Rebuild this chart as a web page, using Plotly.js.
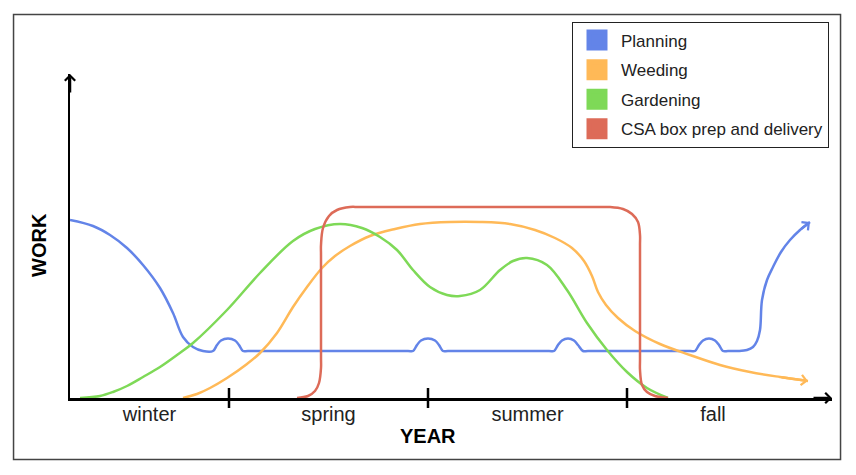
<!DOCTYPE html>
<html>
<head>
<meta charset="utf-8">
<script src="https://cdn.plot.ly/plotly-3.0.1.min.js"></script>
<style>
    html, body { margin: 0; padding: 0; background: #ffffff; }
    #graph { width: 856px; height: 475px; }
</style>
</head>
<body>
<div id="graph"></div>
<script>
// x is the position along the year (0 = start of winter), y is the amount of work
// both are in the same units as the axis ranges below

// the seasons and where each one starts / ends on the x axis
var seasons = ["winter", "spring", "summer", "fall"];
var seasonEdges = [0, 159, 358, 557, 729];

// axis ranges
var xMax = 762;
var yMax = 324;

// names and colours of the four activities
var seriesNames = ["Planning", "Weeding", "Gardening", "CSA box prep and delivery"];
var seriesColors = ["#6384e8", "#ffb957", "#7ed957", "#dd6b58"];

// Planning: high in winter, a little bump each season, ramps up again at the end of fall
var planningX = [0, 23, 40, 57, 73, 90, 103, 113, 123, 133, 143,
    147, 151, 158, 165, 169, 173, 178,
    338, 343, 347, 351, 358, 365, 369, 373, 378,
    479, 484, 488, 492, 498, 504, 508, 513, 518,
    620, 625, 629, 633, 639, 645, 649, 653, 658,
    668, 677, 683, 687, 690, 692, 697, 703, 711, 720, 730, 740];
var planningY = [178, 172, 163, 150, 133, 110, 85, 61, 51, 47, 47,
    53, 57.5, 59.5, 57.5, 53, 47, 47,
    47, 47, 53, 57.5, 59.5, 57.5, 53, 47, 47,
    47, 47, 53, 57.5, 59.5, 57.5, 53, 47, 47,
    47, 47, 53, 57.5, 59.5, 57.5, 53, 47, 47,
    47, 48, 51, 57, 68, 98, 118, 131, 146, 158, 168, 176];

// Weeding: starts late winter, plateau through summer, tails off in fall
var weedingX = [113, 127, 140, 157, 177, 190, 207, 223, 237, 252, 265, 280, 300, 325, 350, 380, 410,
    440, 465, 485, 502, 514, 522, 528, 536, 548, 565, 590, 620, 650, 680, 710, 738];
var weedingY = [0, 4, 10, 20, 34, 45, 65, 91, 111, 130, 142, 152, 162, 169, 174, 176, 176,
    174, 168, 160, 150, 137, 122, 106, 93, 80, 67, 54, 43, 33, 26, 21, 17];

// Gardening: peak in spring, dip, second peak mid summer, done by early fall
var gardeningX = [10, 30, 43, 57, 73, 90, 107, 123, 157, 190, 223, 245, 270, 292, 310, 327, 343, 360, 377, 390,
    410, 430, 443, 457, 477, 497, 517, 537, 557, 577, 598];
var gardeningY = [0, 2, 6, 12, 21, 31, 43, 55, 88, 125, 157, 169, 174, 170, 161, 148, 128, 111, 103, 102,
    108, 128, 137, 140, 133, 108, 75, 48, 26, 10, 0];

// CSA box prep and delivery: on from late spring until early fall
var csaX = [227, 238, 245, 249, 251, 251, 251, 251, 253, 259, 267, 280, 290, 530, 540, 553, 562, 568, 570,
    570, 570, 570, 572, 577, 585, 598];
var csaY = [0, 2, 7, 15, 30, 40, 143, 153, 170, 182, 188, 191, 191, 191, 191, 189, 184, 176, 163,
    153, 38, 28, 13, 6, 2, 0];

var seriesX = [planningX, weedingX, gardeningX, csaX];
var seriesY = [planningY, weedingY, gardeningY, csaY];

var baseFont = 'Arial, "Liberation Sans", sans-serif';

var chartData = [];

// the curves themselves
for (var i = 0; i < seriesNames.length; i++) {
    chartData.push({
        x: seriesX[i],
        y: seriesY[i],
        type: 'scatter',
        mode: 'lines',
        name: seriesNames[i],
        showlegend: false,
        hoverinfo: 'skip',
        line: {color: seriesColors[i], width: 2.5, shape: 'spline', smoothing: 1}
    });
}

// square keys for the legend (one group each so the gap between rows can be set)
for (var i = 0; i < seriesNames.length; i++) {
    chartData.push({
        x: [null],
        y: [null],
        type: 'scatter',
        mode: 'markers',
        name: seriesNames[i],
        legendgroup: 'g' + i,
        hoverinfo: 'skip',
        marker: {symbol: 'square', size: 16, color: seriesColors[i],
            line: {color: seriesColors[i], width: 5}}
    });
}

// season labels sit in the middle of each season
var seasonCenters = [];
for (var s = 0; s < seasons.length; s++) {
    seasonCenters.push((seasonEdges[s] + seasonEdges[s + 1]) / 2);
}

var shapes = [];
// tick marks between the seasons, crossing the x axis
for (var s = 1; s < seasons.length; s++) {
    shapes.push({
        type: 'line', xref: 'x', yref: 'paper',
        x0: seasonEdges[s], x1: seasonEdges[s],
        y0: -10 / yMax, y1: 10 / yMax,
        line: {color: '#000000', width: 2.5}
    });
}
// thin frame round the whole picture
shapes.push({
    type: 'rect', xref: 'paper', yref: 'paper',
    x0: -0.0741, x1: 1.0112, y0: -0.1898, y1: 1.1836,
    line: {color: '#444444', width: 1.5}
});

// arrow heads: ends of the axes, and ends of the planning / weeding curves
function arrow(x, y, ax, ay, color) {
    return {
        x: x, y: y, ax: ax, ay: ay,
        xref: 'x', yref: 'y', axref: 'x', ayref: 'y',
        text: '', showarrow: true,
        arrowhead: 4, arrowsize: 0.8, arrowwidth: 2.5, arrowcolor: color
    };
}
var nP = planningX.length;
var nW = weedingX.length;
var annotations = [
    arrow(xMax, 0, xMax - 20, 0, '#000000'),
    arrow(0, yMax, 0, yMax - 20, '#000000'),
    arrow(planningX[nP - 1], planningY[nP - 1], planningX[nP - 2], planningY[nP - 2], seriesColors[0]),
    arrow(weedingX[nW - 1], weedingY[nW - 1], weedingX[nW - 2], weedingY[nW - 2], seriesColors[1]),
    {
        text: '<b>YEAR</b>', xref: 'paper', yref: 'paper',
        x: 0.4698, y: -0.1173, xanchor: 'center', yanchor: 'middle',
        showarrow: false, font: {family: baseFont, size: 20, color: '#000000'}
    },
    {
        text: '<b>WORK</b>', xref: 'paper', yref: 'paper', textangle: -90,
        x: -0.0407, y: 0.4722, xanchor: 'center', yanchor: 'middle',
        showarrow: false, font: {family: baseFont, size: 20, color: '#000000'}
    }
];

var layout = {
    width: 856,
    height: 475,
    autosize: false,
    margin: {l: 70, r: 24, t: 74, b: 77, pad: 0, autoexpand: false},
    paper_bgcolor: '#ffffff',
    plot_bgcolor: '#ffffff',
    font: {family: baseFont, color: '#222222'},
    xaxis: {
        range: [0, xMax],
        showline: true, linewidth: 2.5, linecolor: '#000000',
        showgrid: false, zeroline: false,
        tickmode: 'array',
        tickvals: seasonCenters,
        ticktext: seasons,
        ticks: '',
        ticklabelstandoff: -4,
        tickfont: {family: baseFont, size: 20, color: '#222222'},
        fixedrange: true
    },
    yaxis: {
        range: [0, yMax],
        showline: true, linewidth: 2.5, linecolor: '#000000',
        showgrid: false, zeroline: false,
        showticklabels: false, ticks: '',
        fixedrange: true
    },
    legend: {
        xref: 'container', yref: 'container',
        x: 572 / 856, y: 1 - 21.5 / 475,
        xanchor: 'left', yanchor: 'top',
        bgcolor: '#ffffff',
        bordercolor: '#222222', borderwidth: 1,
        font: {family: baseFont, size: 17, color: '#222222'},
        itemwidth: 38,
        traceorder: 'grouped',
        tracegroupgap: 4.5
    },
    shapes: shapes,
    annotations: annotations,
    showlegend: true
};

Plotly.newPlot('graph', chartData, layout, {displayModeBar: false, staticPlot: true});
</script>
</body>
</html>
